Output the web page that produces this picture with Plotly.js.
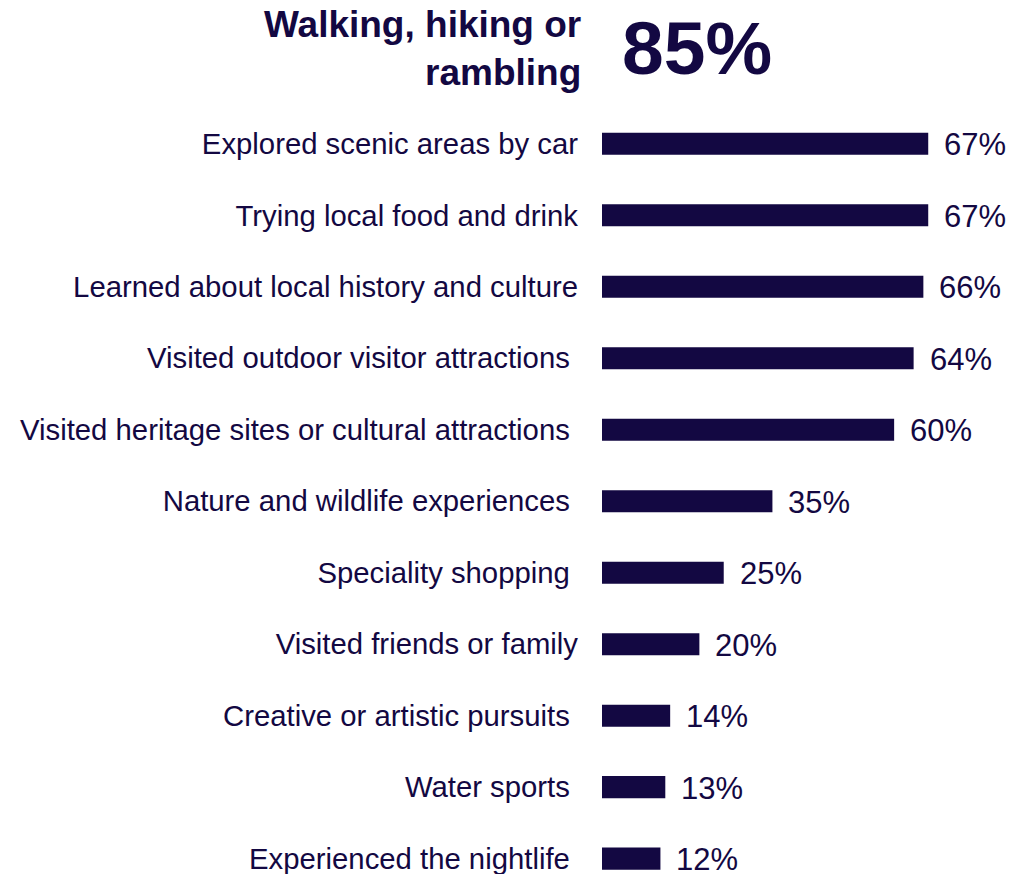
<!DOCTYPE html>
<html>
<head>
<meta charset="utf-8">
<script src="https://cdn.plot.ly/plotly-3.0.1.min.js"></script>
<style>
  html, body { margin: 0; padding: 0; background: #ffffff; }
  #chart { width: 1013px; height: 874px; }
</style>
</head>
<body>
<div id="chart"></div>
<script>
// Headline activity and its share
const headlineActivity = "Walking, hiking or<br>rambling";
const headlineShare = 85;

// Other activities, top to bottom
const activities = [
  "Explored scenic areas by car",
  "Trying local food and drink",
  "Learned about local history and culture",
  "Visited outdoor visitor attractions\u00a0",
  "Visited heritage sites or cultural attractions\u00a0",
  "Nature and wildlife experiences\u00a0",
  "Speciality shopping\u00a0",
  "Visited friends or family",
  "Creative or artistic pursuits\u00a0",
  "Water sports\u00a0",
  "Experienced the nightlife\u00a0"
];
const shares = [67, 67, 66, 64, 60, 35, 25, 20, 14, 13, 12];

const navy = "#130842";
const fontFamily = "Liberation Sans, Arial, sans-serif";

const trace = {
  type: "bar",
  orientation: "h",
  x: shares,
  y: activities,
  width: 0.31,
  marker: { color: navy, line: { width: 0 } },
  hoverinfo: "none"
};

// Percent labels at the end of each bar
const valueLabels = shares.map((v, i) => ({
  x: v,
  y: activities[i],
  xref: "x",
  yref: "y",
  text: v + "%",
  showarrow: false,
  xanchor: "left",
  yanchor: "middle",
  xshift: 14,
  yshift: -1,
  font: { family: fontFamily, size: 31, color: navy }
}));

const headline = [
  {
    xref: "paper", yref: "paper",
    x: -0.046, y: 1.078,
    xanchor: "right", yanchor: "middle",
    align: "right",
    text: "<b>" + headlineActivity + "</b>",
    showarrow: false,
    font: { family: fontFamily, size: 37, color: navy }
  },
  {
    xref: "paper", yref: "paper",
    x: 0.044, y: 1.078,
    xanchor: "left", yanchor: "middle",
    text: "<b>" + headlineShare + "%</b>",
    showarrow: false,
    font: { family: fontFamily, size: 75, color: navy }
  }
];

const layout = {
  width: 1013,
  height: 874,
  margin: { l: 602, r: 2, t: 108, b: 1 },
  paper_bgcolor: "#ffffff",
  plot_bgcolor: "#ffffff",
  showlegend: false,
  xaxis: {
    range: [0, 84],
    visible: false,
    showgrid: false,
    zeroline: false,
    fixedrange: true
  },
  yaxis: {
    type: "category",
    range: [10.2, -0.5],
    showgrid: false,
    zeroline: false,
    showline: false,
    ticks: "",
    ticklabelstandoff: 23,
    tickfont: { family: fontFamily, size: 29.3, color: navy },
    automargin: false,
    fixedrange: true
  },
  annotations: valueLabels.concat(headline)
};

Plotly.newPlot("chart", [trace], layout, { staticPlot: true, displayModeBar: false });
</script>
</body>
</html>
